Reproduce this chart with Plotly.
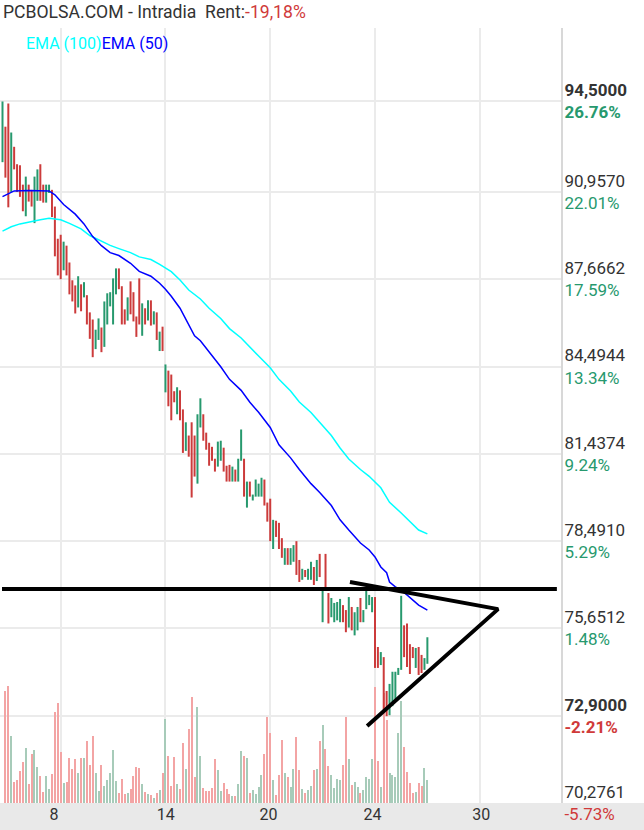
import math
import plotly.graph_objects as go

# ---------------- data ----------------
bar_high = [94.50, 93.50, 94.42, 93.27, 92.71, 92.03, 91.99, 91.24, 91.55, 91.24,
            91.04, 91.55, 91.83, 92.03, 91.24, 91.24, 91.24, 91.04, 90.40, 89.18,
            89.33, 89.07, 88.92, 88.29, 87.63, 87.44, 87.78, 87.48, 87.56, 87.08,
            86.45, 86.19, 85.82, 86.23, 85.90, 86.85, 87.15, 87.19, 87.70, 88.07,
            88.07, 87.41, 86.56, 87.00, 87.59, 87.19, 86.30, 87.70, 86.78, 86.60,
            86.89, 86.89, 86.49, 86.45, 85.75, 85.93, 84.57, 84.35, 84.21, 83.62,
            83.76, 83.65, 82.98, 82.53, 82.07, 82.53, 82.07, 82.81, 83.37, 82.81,
            82.17, 81.82, 81.68, 81.27, 81.86, 81.89, 81.65, 81.03, 81.06, 81.00,
            80.90, 81.27, 82.28, 81.27, 80.49, 80.49, 80.05, 80.56, 80.42, 80.62,
            80.56, 79.78, 79.91, 79.20, 79.17, 79.10, 78.59, 78.26, 78.26, 78.26,
            78.36, 78.49, 77.87, 77.58, 77.54, 77.58, 77.81, 77.64, 77.87, 78.07,
            76.86, 78.07, 76.79, 76.63, 76.47, 76.50, 76.60, 76.40, 76.24, 76.66,
            76.34, 76.17, 76.34, 76.63, 76.24, 76.92, 76.73, 76.66, 76.66, 75.06,
            74.90, 74.74, 73.68, 73.90, 74.28, 74.28, 74.40, 76.70, 75.75, 75.81,
            75.15, 75.06, 75.03, 75.06, 74.81, 74.71, 75.37]
bar_low = [92.11, 91.51, 90.37, 90.96, 91.83, 90.96, 90.77, 90.22, 90.03, 90.59,
           90.40, 89.77, 90.62, 90.62, 90.55, 90.55, 90.92, 90.00, 88.52, 87.81,
           87.67, 88.00, 87.81, 87.11, 86.85, 86.41, 86.63, 86.49, 87.00, 86.01,
           85.49, 84.83, 85.12, 85.45, 85.01, 85.20, 86.01, 86.67, 86.01, 87.11,
           87.30, 86.01, 86.01, 86.15, 86.38, 86.12, 85.56, 86.01, 85.60, 86.01,
           86.15, 85.97, 86.01, 85.45, 85.05, 85.05, 83.58, 83.09, 82.60, 83.23,
           82.81, 82.60, 81.47, 81.54, 81.34, 79.95, 80.66, 80.42, 82.35, 81.89,
           81.58, 81.03, 81.20, 80.83, 81.00, 81.20, 80.83, 80.49, 80.49, 80.49,
           80.49, 80.49, 81.20, 79.98, 79.61, 79.98, 79.85, 79.98, 79.98, 79.98,
           79.68, 79.14, 78.49, 78.23, 78.63, 78.23, 77.94, 77.71, 77.71, 77.71,
           77.81, 77.38, 77.15, 77.22, 77.31, 77.22, 77.22, 77.05, 77.18, 77.31,
           75.85, 76.92, 75.81, 76.01, 75.85, 75.91, 75.85, 75.85, 75.53, 75.68,
           75.59, 75.43, 75.59, 75.85, 75.85, 76.27, 76.40, 76.17, 74.40, 74.40,
           74.49, 73.09, 72.90, 72.93, 73.21, 73.43, 74.18, 74.34, 74.74, 74.43,
           74.21, 74.71, 74.40, 74.18, 74.24, 74.34, 74.53]
# 1 = rising bar (green), 0 = falling bar (red)
bar_up = [1, 0, 0, 1, 0, 0, 0, 0, 1, 0,
          0, 1, 1, 0, 0, 1, 1, 0, 0, 0,
          0, 1, 0, 0, 0, 0, 1, 0, 1, 0,
          0, 0, 1, 1, 0, 1, 1, 1, 1, 1,
          0, 0, 0, 1, 0, 0, 0, 0, 1, 0,
          1, 0, 1, 0, 1, 0, 1, 0, 0, 0,
          1, 0, 0, 1, 0, 0, 0, 1, 1, 0,
          0, 0, 0, 0, 1, 1, 0, 0, 0, 1,
          0, 1, 1, 0, 1, 0, 1, 1, 1, 1,
          0, 0, 0, 1, 0, 0, 0, 1, 0, 1,
          1, 0, 0, 1, 0, 1, 1, 0, 1, 0,
          1, 0, 0, 1, 1, 1, 1, 0, 0, 1,
          0, 1, 1, 0, 1, 1, 1, 1, 0, 0,
          1, 0, 0, 1, 1, 1, 1, 1, 0, 0,
          0, 0, 1, 0, 0, 1, 1]
volume = [0, 112, 117, 67, 21, 23, 32, 41, 55, 19,
          49, 53, 36, 27, 11, 27, 14, 29, 91, 100,
          51, 20, 21, 45, 34, 44, 30, 45, 45, 62,
          38, 67, 30, 12, 38, 17, 23, 30, 53, 22,
          10, 24, 9, 10, 14, 27, 36, 35, 19, 11,
          9, 8, 5, 10, 13, 30, 84, 47, 17, 46,
          19, 14, 60, 34, 74, 106, 26, 96, 47, 15,
          12, 12, 15, 44, 33, 12, 20, 14, 9, 7,
          7, 19, 52, 47, 45, 10, 13, 9, 16, 28,
          49, 86, 70, 23, 8, 28, 63, 30, 26, 16,
          34, 66, 33, 14, 10, 13, 17, 33, 34, 62,
          78, 54, 37, 28, 15, 24, 23, 38, 86, 44,
          18, 21, 16, 10, 13, 26, 24, 44, 116, 42,
          16, 110, 83, 30, 28, 26, 70, 102, 56, 31,
          20, 10, 11, 20, 17, 35, 23]

ema50_idx = [0, 3, 4, 9, 16, 18, 21, 25, 28, 31, 34, 37, 40, 44, 47, 51, 54, 56, 58, 61,
             64, 66, 68, 71, 75, 78, 82, 85, 88, 92, 95, 99, 102, 106, 109, 113, 116, 119,
             123, 126, 128, 130, 132, 133, 135, 137, 140, 143, 146]
ema50_val = [90.78, 90.93, 91.00, 91.01, 91.00, 90.85, 90.48, 90.11, 89.74, 89.26, 88.92,
             88.66, 88.55, 88.26, 87.96, 87.78, 87.52, 87.30, 87.04, 86.60, 85.97, 85.60,
             85.42, 85.01, 84.49, 84.04, 83.65, 83.23, 82.88, 82.35, 81.75, 81.30, 80.90,
             80.42, 80.12, 79.68, 79.20, 78.86, 78.43, 78.20, 77.97, 77.64, 77.45, 77.15,
             76.99, 76.89, 76.66, 76.40, 76.24]
ema100_idx = [0, 3, 6, 9, 13, 16, 20, 23, 27, 30, 34, 37, 40, 44, 47, 51, 54, 58, 61, 64,
              68, 71, 75, 78, 82, 85, 88, 92, 95, 99, 102, 106, 109, 113, 116, 119, 123,
              126, 130, 133, 137, 140, 143, 146]
ema100_val = [89.47, 89.63, 89.74, 89.82, 89.90, 89.95, 89.90, 89.76, 89.55, 89.30, 89.08,
              88.93, 88.81, 88.66, 88.50, 88.40, 88.22, 87.95, 87.64, 87.27, 86.94, 86.60,
              86.23, 85.86, 85.52, 85.18, 84.87, 84.45, 84.04, 83.63, 83.24, 82.87, 82.52,
              82.07, 81.64, 81.26, 80.90, 80.67, 80.28, 79.79, 79.43, 79.14, 78.86, 78.73]

# drawn trend lines (bar index, price)
hline_x = [-0.17, 190.5]
hline_price = [76.92, 76.92]
triangle_x = [119.4, 170.3, 125.3]
triangle_price = [77.15, 76.27, 72.60]

grid_idx = [20, 56, 92, 128, 164]
day_label_idx = [17.7, 56.1, 91.4, 127.1, 164.5]
day_labels = ["8", "14", "20", "24", "30"]

price_ticks = [94.5, 90.957, 87.6662, 84.4944, 81.4374, 78.491, 75.6512, 72.9, 70.2761]
pct_ticks = [26.76, 22.01, 17.59, 13.34, 9.24, 5.29, 1.48, -2.21, -5.73]
bold_ticks = [94.5, 72.9]

title_text = "PCBOLSA.COM - Intradia  Rent:"
title_rent = "-19,18%"

# ---------------- style ----------------
RED = "#cc3b3b"
GREEN = "#27996e"
VRED = "#f3a4a4"
VGREEN = "#a7cbb9"
GRID = "#ebebeb"
TXT = "#333333"
FONT = "Roboto"

W, H = 644, 830
ML, MR, MT, MB = 0, 83, 28, 27
plot_w = W - ML - MR
plot_h = H - MT - MB

x_range = [-0.859, 191.92]
y_range = [math.log10(70.2761), 1.988907]

fig = go.Figure()

# volume on main subplot
fig.add_trace(go.Bar(
    x=list(range(len(volume))), y=volume,
    marker=dict(color=[VGREEN if u else VRED for u in bar_up], line=dict(width=0)),
    width=0.36, xaxis="x", yaxis="y", hoverinfo="skip", showlegend=False))

# price bars on overlay subplot
for flag, col in ((0, RED), (1, GREEN)):
    xs, ys = [], []
    for i, (h, l, u) in enumerate(zip(bar_high, bar_low, bar_up)):
        if u == flag:
            xs += [i, i, None]
            ys += [l, h, None]
    fig.add_trace(go.Scatter(x=xs, y=ys, mode="lines", line=dict(color=col, width=2),
                             xaxis="x2", yaxis="y2", hoverinfo="skip", showlegend=False))

fig.add_trace(go.Scatter(x=ema100_idx, y=ema100_val, mode="lines",
                         line=dict(color="#00ffff", width=1.5), xaxis="x2", yaxis="y2",
                         showlegend=False, hoverinfo="skip"))
fig.add_trace(go.Scatter(x=ema50_idx, y=ema50_val, mode="lines",
                         line=dict(color="#0000ff", width=1.5), xaxis="x2", yaxis="y2",
                         showlegend=False, hoverinfo="skip"))

fig.add_trace(go.Scatter(x=hline_x, y=hline_price, mode="lines",
                         line=dict(color="black", width=4), xaxis="x2", yaxis="y2",
                         showlegend=False, hoverinfo="skip"))
fig.add_trace(go.Scatter(x=triangle_x, y=triangle_price, mode="lines",
                         line=dict(color="black", width=4), xaxis="x2", yaxis="y2",
                         showlegend=False, hoverinfo="skip"))


def fmt_tick(p, pct):
    ptxt = f"{p:.4f}".replace(".", ",")
    col = GREEN if pct >= 0 else "#d03a3a"
    ctxt = f"{pct:.2f}%"
    if p in bold_ticks:
        return f"<b>{ptxt}</b><br><span style='color:{col}'><b>{ctxt}</b></span>"
    return f"{ptxt}<br><span style='color:{col}'>{ctxt}</span>"


ticktext = [fmt_tick(p, c) for p, c in zip(price_ticks, pct_ticks)]

fig.update_layout(
    width=W, height=H,
    margin=dict(l=ML, r=MR, t=MT, b=MB, pad=0),
    paper_bgcolor="white", plot_bgcolor="white",
    showlegend=False, bargap=0,
    font=dict(family=FONT, color=TXT),
    xaxis=dict(range=x_range, tickvals=grid_idx, showticklabels=False, ticks="",
               showgrid=True, gridcolor=GRID, gridwidth=1.5, zeroline=False, showline=False),
    yaxis=dict(range=[0, plot_h], visible=False, showgrid=False, zeroline=False),
    xaxis2=dict(range=x_range, overlaying="x", anchor="y2", side="bottom",
                tickvals=day_label_idx, ticktext=day_labels, ticks="",
                showgrid=False, zeroline=False, showline=False,
                tickfont=dict(family=FONT, size=16, color=TXT)),
    yaxis2=dict(type="log", range=y_range, overlaying="y", anchor="x2", side="right",
                tickvals=price_ticks, ticktext=ticktext, ticks="",
                showgrid=True, gridcolor=GRID, gridwidth=1.5, zeroline=False,
                showline=True, linecolor="#d8d8d8", linewidth=2,
                ticklabelstandoff=-2,
                tickfont=dict(family=FONT, size=17, color=TXT)),
    shapes=[dict(type="rect", xref="paper", yref="paper", x0=0, x1=W / plot_w,
                 y0=-MB / plot_h, y1=0, fillcolor="#e9e9e9", line=dict(width=0),
                 layer="below")],
    annotations=[
        dict(xref="paper", yref="paper", x=1 / plot_w, y=(H - MB - 12) / plot_h,
             xanchor="left", yanchor="middle", showarrow=False,
             text=f"{title_text}<span style='color:#d03a3a'>{title_rent}</span>",
             font=dict(family=FONT, size=17.6, color=TXT)),
        dict(xref="paper", yref="paper", x=24 / plot_w, y=(H - MB - 43) / plot_h,
             xanchor="left", yanchor="middle", showarrow=False,
             text="<span style='color:#00ffff'>EMA (100)</span><span style='color:#0000ff'>EMA (50)</span>",
             font=dict(family=FONT, size=16)),
    ],
)

fig.write_html("out.html")
